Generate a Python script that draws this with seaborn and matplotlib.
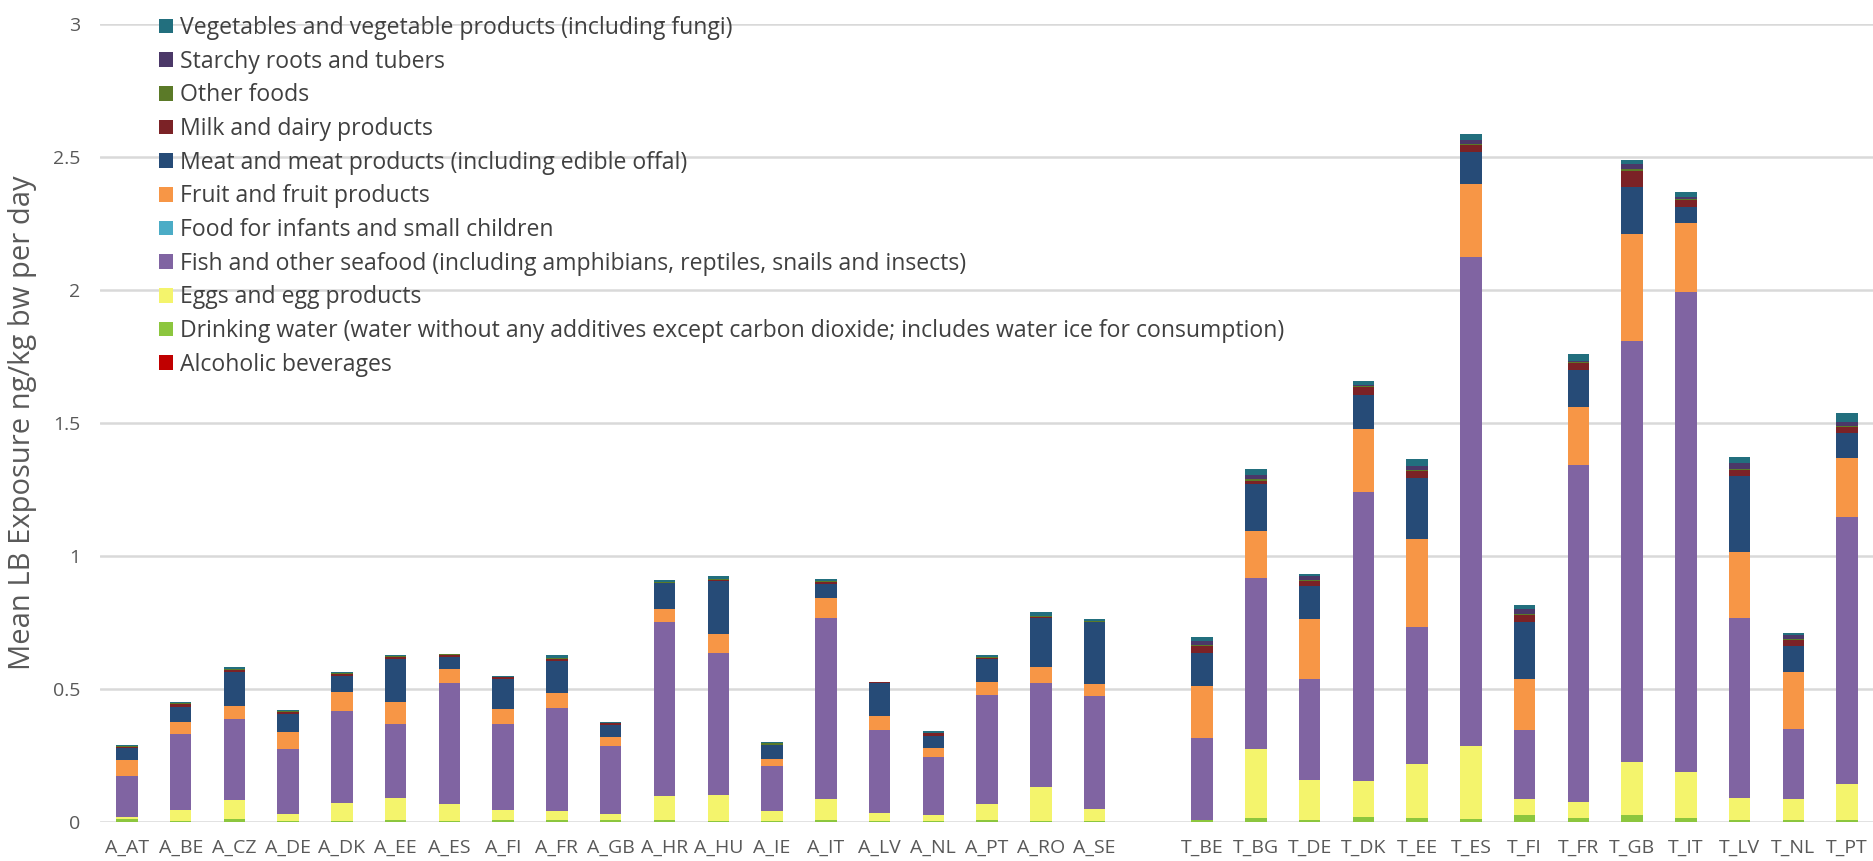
import pandas as pd
import seaborn as sns
import matplotlib.pyplot as plt
from matplotlib.patches import Patch

# countries: adults (A_) and toddlers (T_), with a blank slot between the groups
a_countries = ['A_AT', 'A_BE', 'A_CZ', 'A_DE', 'A_DK', 'A_EE', 'A_ES', 'A_FI', 'A_FR', 'A_GB',
               'A_HR', 'A_HU', 'A_IE', 'A_IT', 'A_LV', 'A_NL', 'A_PT', 'A_RO', 'A_SE']
t_countries = ['T_BE', 'T_BG', 'T_DE', 'T_DK', 'T_EE', 'T_ES', 'T_FI', 'T_FR', 'T_GB', 'T_IT',
               'T_LV', 'T_NL', 'T_PT']

# mean LB exposure (ng/kg bw per day) per food group, A_ values then T_ values
alcohol = [0.0, 0.0, 0.0, 0.0, 0.0, 0.0, 0.0, 0.0, 0.0, 0.0, 0.0, 0.0, 0.0, 0.0, 0.0, 0.0, 0.0, 0.0, 0.0,
           0.0, 0.0, 0.0, 0.0, 0.0, 0.0, 0.0, 0.0, 0.0, 0.0, 0.0, 0.0, 0.0]
water = [0.012, 0.005, 0.010, 0.005, 0.005, 0.006, 0.003, 0.006, 0.006, 0.006, 0.006, 0.003, 0.003, 0.006,
         0.003, 0.003, 0.006, 0.003, 0.003,
         0.006, 0.016, 0.006, 0.019, 0.015, 0.010, 0.028, 0.015, 0.028, 0.015, 0.009, 0.009, 0.009]
eggs = [0.007, 0.040, 0.072, 0.026, 0.067, 0.085, 0.063, 0.038, 0.035, 0.025, 0.090, 0.098, 0.039, 0.082,
        0.029, 0.025, 0.060, 0.129, 0.044,
        0.002, 0.258, 0.151, 0.134, 0.202, 0.275, 0.057, 0.060, 0.198, 0.173, 0.083, 0.079, 0.132]
fish = [0.155, 0.285, 0.304, 0.242, 0.345, 0.278, 0.456, 0.325, 0.388, 0.255, 0.657, 0.536, 0.167, 0.678,
        0.312, 0.216, 0.411, 0.392, 0.427,
        0.307, 0.643, 0.381, 1.089, 0.517, 1.840, 0.259, 1.267, 1.584, 1.803, 0.674, 0.260, 1.005]
infants = [0.0, 0.0, 0.0, 0.0, 0.0, 0.0, 0.0, 0.0, 0.0, 0.0, 0.0, 0.0, 0.0, 0.0, 0.0, 0.0, 0.0, 0.0, 0.0,
           0.0, 0.0, 0.0, 0.0, 0.0, 0.0, 0.0, 0.0, 0.0, 0.0, 0.0, 0.0, 0.0]
fruit = [0.060, 0.047, 0.050, 0.065, 0.073, 0.082, 0.055, 0.057, 0.057, 0.034, 0.048, 0.070, 0.026, 0.075,
         0.053, 0.035, 0.048, 0.060, 0.043,
         0.196, 0.178, 0.225, 0.235, 0.329, 0.272, 0.195, 0.217, 0.401, 0.262, 0.250, 0.215, 0.224]
meat = [0.045, 0.057, 0.128, 0.069, 0.059, 0.161, 0.045, 0.110, 0.120, 0.046, 0.097, 0.200, 0.054, 0.054,
        0.126, 0.045, 0.088, 0.182, 0.234,
        0.126, 0.175, 0.126, 0.128, 0.229, 0.123, 0.213, 0.140, 0.175, 0.060, 0.286, 0.100, 0.091]
milk = [0.004, 0.008, 0.008, 0.005, 0.008, 0.009, 0.006, 0.008, 0.008, 0.006, 0.002, 0.002, 0.002, 0.009,
        0.002, 0.010, 0.003, 0.003, 0.002,
        0.023, 0.013, 0.016, 0.029, 0.029, 0.025, 0.025, 0.025, 0.063, 0.025, 0.020, 0.022, 0.025]
other = [0.002, 0.004, 0.003, 0.004, 0.003, 0.003, 0.002, 0.002, 0.004, 0.002, 0.004, 0.005, 0.005, 0.003,
         0.001, 0.002, 0.006, 0.006, 0.004,
         0.005, 0.006, 0.006, 0.005, 0.004, 0.003, 0.005, 0.004, 0.006, 0.006, 0.005, 0.004, 0.004]
starchy = [0.0, 0.0, 0.0, 0.0, 0.0, 0.0, 0.0, 0.0, 0.0, 0.0, 0.0, 0.0, 0.0, 0.0, 0.0, 0.0, 0.0, 0.0, 0.0,
           0.017, 0.015, 0.013, 0.004, 0.012, 0.016, 0.020, 0.006, 0.018, 0.006, 0.022, 0.014, 0.013]
veg = [0.003, 0.006, 0.006, 0.004, 0.005, 0.005, 0.003, 0.004, 0.010, 0.003, 0.004, 0.010, 0.004, 0.006,
       0.001, 0.007, 0.006, 0.016, 0.006,
       0.015, 0.023, 0.008, 0.016, 0.028, 0.024, 0.015, 0.024, 0.017, 0.020, 0.025, 0.009, 0.036]

# stacking order, bottom to top
groups = [
    ('Alcoholic beverages', alcohol, '#C00000'),
    ('Drinking water (water without any additives except carbon dioxide; includes water ice for consumption)', water, '#8CC63E'),
    ('Eggs and egg products', eggs, '#F4F46C'),
    ('Fish and other seafood (including amphibians, reptiles, snails and insects)', fish, '#8064A2'),
    ('Food for infants and small children', infants, '#4BACC6'),
    ('Fruit and fruit products', fruit, '#F79646'),
    ('Meat and meat products (including edible offal)', meat, '#264B77'),
    ('Milk and dairy products', milk, '#7B2226'),
    ('Other foods', other, '#5B7A28'),
    ('Starchy roots and tubers', starchy, '#4B3868'),
    ('Vegetables and vegetable products (including fungi)', veg, '#226F7E'),
]

countries = a_countries + t_countries
order = a_countries + [''] + t_countries

df = pd.DataFrame({name: vals for name, vals, _ in groups})
df.insert(0, 'country', countries)
cum = df.drop(columns='country').cumsum(axis=1)
cum['country'] = countries

sns.set_style('white')
plt.rcParams['font.family'] = ['Open Sans', 'DejaVu Sans']

fig = plt.figure(figsize=(18.74, 8.61), dpi=100)
ax = fig.add_axes([0.0534, 0.0453, 0.9466, 0.9268])

# draw cumulative totals from the top layer down, so each layer shows its own segment
for name, _, color in reversed(groups):
    sns.barplot(data=cum, x='country', y=name, order=order, color=color,
                saturation=1, width=0.4, errorbar=None, ax=ax, zorder=3,
                linewidth=0, edgecolor='none')

ax.set_ylim(0, 3)
ax.set_xlim(-0.5, len(order) - 0.5)
ax.set_yticks([0, 0.5, 1, 1.5, 2, 2.5, 3])
ax.set_yticklabels(['0', '0.5', '1', '1.5', '2', '2.5', '3'])
ax.grid(axis='y', color='#D9D9D9', linewidth=1.8, zorder=0)
ax.set_axisbelow(True)
for s in ax.spines.values():
    s.set_visible(False)
ax.tick_params(axis='both', length=0, labelsize=14, labelcolor='#595959')
ax.tick_params(axis='x', pad=12)
ax.tick_params(axis='y', pad=14)

ax.set_xlabel('')
ax.set_ylabel('Mean LB Exposure ng/kg bw per day', fontsize=21, color='#595959')
ax.yaxis.set_label_coords(-0.0355, 0.5)

handles = [Patch(facecolor=c, edgecolor='none', label=n) for n, _, c in reversed(groups)]
ax.legend(handles=handles, loc='upper left', bbox_to_anchor=(0.028, 1.0216), frameon=False,
          fontsize=16.6, labelcolor='#404040', handlelength=0.6, handleheight=0.6,
          handletextpad=0.33, labelspacing=0.42, borderaxespad=0)

fig.savefig('out.png', dpi=100)
